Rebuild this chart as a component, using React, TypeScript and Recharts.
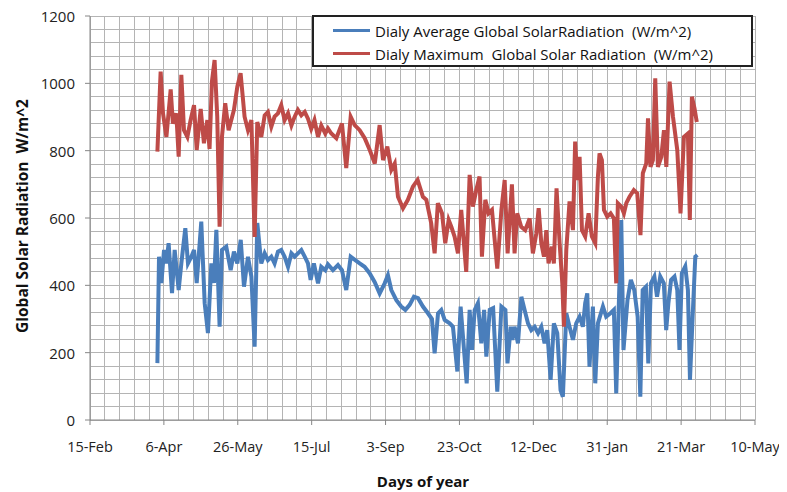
import React from 'react'
import { LineChart, Line, CartesianGrid, XAxis, YAxis } from 'recharts'

// day offsets are counted from 15-Feb (x axis origin)
const xTickLabels = ['15-Feb', '6-Apr', '26-May', '15-Jul', '3-Sep', '23-Oct', '12-Dec', '31-Jan', '21-Mar', '10-May']
const yLabelStep = 200

const avgDays = [
  45.6, 46.7, 48.3, 50.1, 51.7, 53.2, 55.5, 57.3, 60.0, 61.8, 64.5, 66.3, 68.6, 70.4, 72.2, 75.3, 77.6, 79.8, 82.1, 83.9,
  85.5, 87.7, 89.3, 92.2, 95.2, 97.4, 99.7, 102.0, 104.2, 106.9, 109.2, 111.4, 113.2, 115.9, 118.2, 120.4, 122.7, 124.9,
  127.2, 129.4, 131.7, 134.0, 136.3, 138.5, 140.7, 143.0, 145.3, 147.5, 149.3, 151.5, 154.3, 156.5, 159.2, 161.0, 164.4,
  167.8, 170.5, 173.4, 176.4, 179.5, 182.5, 185.8, 189.2, 192.6, 196.0, 199.4, 201.6, 203.9, 207.3, 210.6, 213.4, 216.3,
  219.2, 222.0, 225.3, 228.7, 231.4, 233.2, 235.5, 237.7, 240.0, 243.4, 245.6, 248.6, 250.8, 253.1, 254.9, 256.9, 258.5,
  260.3, 262.5, 264.8, 266.7, 268.2, 270.5, 272.8, 275.6, 278.4, 281.1, 282.5, 284.7, 285.8, 287.3, 289.6, 291.9, 294.1,
  296.4, 298.6, 300.9, 303.2, 305.4, 307.6, 309.4, 311.7, 313.9, 316.2, 318.4, 320.0, 322.3, 324.5, 326.8, 329.0, 331.3,
  333.5, 335.1, 336.5, 338.0, 340.3, 341.9, 343.7, 347.1, 349.3, 352.2, 354.5, 356.1, 359.5, 361.0, 363.7, 366.0, 368.3,
  370.6, 372.4, 374.0, 376.2, 377.8, 379.6, 381.9, 383.7, 385.9, 388.3, 389.9, 391.4, 393.2, 395.5, 397.4, 398.9, 400.5,
  402.8, 404.6, 406.0, 407.8, 409.6, 411.0,
]
const avgValues = [
  169, 485, 407, 505, 465, 525, 377, 505, 386, 465, 570, 465, 485, 505, 407, 589, 347, 258, 465, 407,
  565, 277, 505, 515, 445, 500, 465, 535, 396, 485, 426, 218, 585, 465, 495, 475, 485, 465,
  500, 505, 485, 455, 495, 485, 495, 505, 485, 465, 416, 465, 406, 455, 445, 462, 445,
  460, 445, 386, 485, 475, 465, 455, 436, 410, 376, 406, 430, 386, 356, 337, 327, 342,
  366, 362, 337, 317, 300, 198, 317, 327, 297, 287, 277, 144, 337, 208, 109, 327, 208,
  327, 347, 228, 327, 188, 327, 332, 84, 337, 327, 168, 277, 238, 277, 228, 366, 327,
  287, 267, 277, 258, 277, 228, 267, 119, 287, 258, 89, 69, 317, 277, 238, 287, 307,
  277, 347, 376, 158, 337, 109, 287, 337, 307, 317, 327, 79, 594, 208, 356, 416, 386,
  307, 69, 386, 396, 168, 406, 426, 366, 426, 406, 267, 347, 416, 426, 386, 208, 436,
  456, 386, 119, 307, 485, 490,
]

const maxDays = [
  45.6, 47.8, 49.4, 51.7, 54.6, 56.1, 58.4, 60.0, 61.8, 63.6, 65.9, 68.1, 70.4, 72.2, 74.9, 77.1, 79.4, 80.9, 82.5, 84.3,
  86.1, 87.7, 89.3, 91.5, 93.8, 97.4, 99.7, 101.9, 104.6, 106.9, 109.2, 111.4, 113.2, 115.9, 118.2, 120.4, 122.7, 124.9,
  127.2, 129.4, 131.7, 134.0, 136.3, 138.5, 140.7, 143.0, 145.3, 147.5, 149.7, 151.9, 154.3, 156.5, 159.2, 161.0, 163.3,
  166.7, 170.5, 173.4, 176.4, 179.1, 182.5, 185.9, 189.3, 192.7, 196.0, 198.3, 201.2, 203.9, 206.2, 208.4, 211.8, 215.1,
  218.5, 221.7, 225.3, 227.6, 230.9, 233.2, 235.4, 238.2, 240.4, 242.7, 244.5, 246.7, 249.0, 251.2, 254.6, 256.9, 259.1,
  261.4, 263.6, 265.2, 267.5, 269.7, 272.0, 275.6, 278.4, 280.6, 282.6, 285.5, 287.3, 289.1, 291.8, 294.5, 297.5, 299.7,
  302.0, 303.6, 305.4, 307.2, 308.8, 310.3, 312.6, 313.9, 315.7, 317.8, 319.6, 320.7, 322.3, 324.5, 326.8, 328.3, 329.7,
  331.3, 332.9, 335.1, 337.4, 339.6, 341.9, 343.7, 344.8, 346.4, 347.8, 350.0, 352.3, 354.5, 356.1, 357.2, 359.5, 361.3,
  362.9, 365.1, 368.0, 370.3, 372.5, 374.1, 376.4, 377.6, 379.3, 380.9, 382.5, 384.3, 386.6, 388.4, 390.0, 392.2, 394.5,
  397.4, 399.6, 401.9, 404.6, 405.9, 407.3, 409.1, 410.6,
]
const maxValues = [
  797, 1035, 911, 841, 982, 880, 911, 782, 1025, 861, 841, 891, 935, 802, 924, 822, 891, 805, 1005, 1069,
  901, 574, 841, 941, 861, 921, 990, 1030, 901, 861, 891, 544, 885, 841, 905, 915, 871, 901,
  911, 935, 891, 911, 875, 901, 921, 905, 915, 895, 865, 891, 841, 875, 851, 866, 851,
  837, 881, 748, 901, 876, 861, 837, 802, 762, 876, 772, 812, 743, 762, 663, 629, 654,
  693, 713, 663, 654, 584, 495, 644, 614, 525, 594, 574, 545, 495, 624, 440, 728, 634,
  683, 723, 485, 654, 614, 624, 450, 624, 713, 495, 700, 495, 614, 574, 564, 599, 495,
  554, 629, 525, 485, 564, 465, 515, 465, 688, 525, 406, 277, 505, 649, 564, 827, 713,
  782, 564, 545, 614, 545, 525, 723, 792, 772, 624, 604, 614, 599, 406, 644, 634, 614,
  644, 663, 683, 673, 549, 733, 762, 896, 752, 772, 1015, 752, 782, 861, 752, 1005, 901,
  802, 614, 841, 851, 594, 960, 925, 885,
]

const avgData = avgDays.map((d, i) => ({ day: d, value: avgValues[i] }))
const maxData = maxDays.map((d, i) => ({ day: d, value: maxValues[i] }))

const xTicks = xTickLabels.map((_, i) => i * 50)
// minor grid: every 10 days across; y ticks every 40 so the grid gets its minor lines, only multiples of 200 labelled
const gridX = Array.from({ length: 46 }, (_, i) => i * 10)
const yGridTicks = Array.from({ length: 31 }, (_, i) => i * 40)

const BLUE = '#4a7ebb'
const RED = '#be4b48'
const GRID = '#b4b4b4'
const AXIS = '#868686'
const FONT = '"Open Sans", sans-serif'

const seriesNames = [
  'Dialy Average Global SolarRadiation  (W/m^2)',
  'Dialy Maximum  Global Solar Radiation  (W/m^2)',
]
const seriesColors = [BLUE, RED]

const YTick = (props: any) => {
  const { x, y, payload } = props
  if (payload.value % yLabelStep !== 0) return <g />
  return (
    <g>
      <line x1={x + 10} x2={x + 15} y1={y} y2={y} stroke={AXIS} />
      <text x={x} y={y} textAnchor="end" dominantBaseline="central" fill="#222" fontSize={15} fontFamily={FONT}>
        {payload.value}
      </text>
    </g>
  )
}

const LegendBox = () => (
  <div
    style={{
      position: 'absolute',
      left: 304,
      top: 7,
      width: 441,
      height: 52,
      boxSizing: 'border-box',
      border: '2px solid #222',
      background: '#fff',
      fontFamily: FONT,
      fontSize: 15,
      color: '#111',
      paddingTop: 2,
    }}
  >
    {seriesNames.map((name, i) => (
      <div key={name} style={{ display: 'flex', alignItems: 'center', height: 23 }}>
        <div style={{ width: 37, height: 3, background: seriesColors[i], marginLeft: 19, marginRight: 5 }} />
        <span style={{ whiteSpace: 'pre' }}>{name}</span>
      </div>
    ))}
  </div>
)

const App = () => {
  return (
    <div style={{ position: 'relative', width: 779, height: 484 }}>
      <LineChart width={779} height={484} margin={{ top: 8, right: 32, left: 22, bottom: 42 }} style={{ overflow: 'visible' }}>
        <CartesianGrid stroke={GRID} strokeWidth={1} shapeRendering="crispEdges" verticalValues={gridX} />
        <XAxis
          type="number"
          dataKey="day"
          domain={[0, 450]}
          ticks={xTicks}
          tickFormatter={(v: number) => xTickLabels[v / 50]}
          stroke={AXIS}
          tickSize={5}
          tickMargin={17}
          height={30}
          interval={0}
          tick={{ fill: '#222', fontSize: 14.5, fontFamily: FONT }}
          allowDataOverflow
          label={{
            content: () => (
              <text x={415} y={473} textAnchor="middle" dominantBaseline="central" fontFamily={FONT} fontSize={15} fontWeight={700} fill="#111">
                Days of year
              </text>
            ),
          }}
        />
        <YAxis
          type="number"
          domain={[0, 1200]}
          ticks={yGridTicks}
          stroke={AXIS}
          tickLine={false}
          tickSize={5}
          tickMargin={10}
          width={60}
          interval={0}
          tick={<YTick />}
          label={{
            content: () => (
              <text
                x={14}
                y={208}
                transform="rotate(-90 14 208)"
                textAnchor="middle"
                dominantBaseline="central"
                fontFamily={FONT}
                fontSize={15.5}
                fontWeight={700}
                fill="#111"
                style={{ whiteSpace: 'pre' }}
              >
                {'Global Solar Radiation  W/m^2'}
              </text>
            ),
          }}
        />
        <Line data={avgData} dataKey="value" name={seriesNames[0]} stroke={BLUE} strokeWidth={4} dot={false} isAnimationActive={false} />
        <Line data={maxData} dataKey="value" name={seriesNames[1]} stroke={RED} strokeWidth={4} dot={false} isAnimationActive={false} />
      </LineChart>
      <LegendBox />
    </div>
  )
}

export default App
